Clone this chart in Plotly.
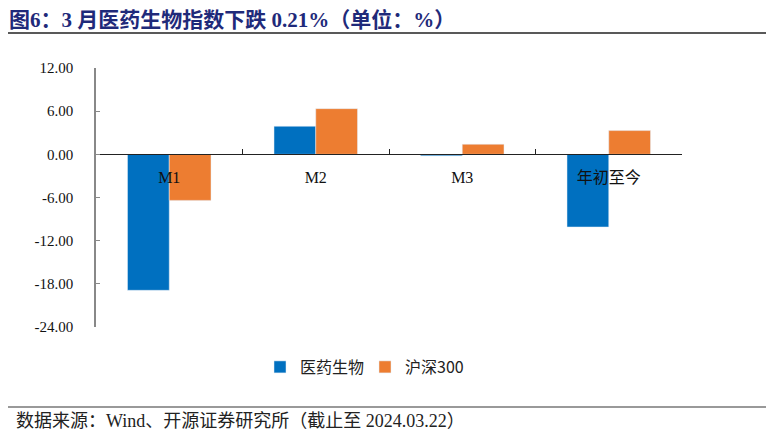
import plotly.graph_objects as go

categories = ["M1", "M2", "M3", "年初至今"]
pharma = [-18.9, 3.9, -0.21, -10.1]
hs300 = [-6.4, 6.35, 1.4, 3.3]
y_ticks = [12, 6, 0, -6, -12, -18, -24]
y_labels = ["12.00", "6.00", "0.00", "-6.00", "-12.00", "-18.00", "-24.00"]

# page is shown with an 8px body margin, so the figure is shrunk by 8px
OFF = 8
W, H = 774 - OFF, 437 - OFF
L, R, T, B = 96, 682, 68, 327  # page coordinates of the plot area
pw, ph = R - L, B - T

def px(x):
    return (x - L) / pw

def py(y):
    return (B - y) / ph

serif = "Liberation Serif, Times New Roman, Noto Sans CJK SC"

fig = go.Figure()
fig.add_trace(go.Bar(x=categories, y=pharma, name="医药生物", marker=dict(color="#0070C0")))
fig.add_trace(go.Bar(x=categories, y=hs300, name="沪深300", marker=dict(color="#ED7D31")))

fig.update_layout(
    width=W, height=H,
    margin=dict(l=L - OFF, r=774 - R, t=T - OFF, b=437 - B, autoexpand=False),
    paper_bgcolor="white", plot_bgcolor="white",
    barmode="group", bargap=0.43, bargroupgap=0,
    showlegend=True,
    legend=dict(orientation="h", x=px(260), xanchor="left", y=py(367), yanchor="middle",
                font=dict(family="Noto Sans CJK SC", size=16, color="#222"),
                itemwidth=30, entrywidth=60, traceorder="normal"),
    xaxis=dict(anchor="free", position=24 / 36, showline=True, linecolor="#222", linewidth=1,
               ticks="inside", tickson="boundaries", ticklen=5, tickcolor="#222",
               tickfont=dict(family=serif, size=16, color="#111"), showgrid=False,
               zeroline=False, ticklabelstandoff=8, automargin=False),
    yaxis=dict(range=[-24, 12], tickvals=y_ticks, ticktext=y_labels, showline=True,
               linecolor="#888", linewidth=1.5, ticks="inside", ticklen=4, tickcolor="#888",
               tickfont=dict(family=serif, size=15, color="#111"), showgrid=False,
               zeroline=False, ticklabelstandoff=18, automargin=False),
    font=dict(family=serif),
)

fig.add_annotation(text="<b>图6：3 月医药生物指数下跌 0.21%（单位：%）</b>", xref="paper", yref="paper",
                   x=px(7), y=py(19.5), xanchor="left", yanchor="middle", showarrow=False,
                   font=dict(family=serif, size=21, color="#1F2A7A"))
fig.add_annotation(text="数据来源：Wind、开源证券研究所（截止至 2024.03.22）", xref="paper", yref="paper",
                   x=px(14), y=py(421), xanchor="left", yanchor="middle", showarrow=False,
                   font=dict(family=serif, size=18, color="#222"))
fig.add_shape(type="line", xref="paper", yref="paper", x0=px(OFF), x1=px(768), y0=py(33), y1=py(33),
              line=dict(color="#222", width=1.5))
fig.add_shape(type="line", xref="paper", yref="paper", x0=px(OFF), x1=px(768), y0=py(407), y1=py(407),
              line=dict(color="#777", width=1.5))

fig.write_html("out.html")
